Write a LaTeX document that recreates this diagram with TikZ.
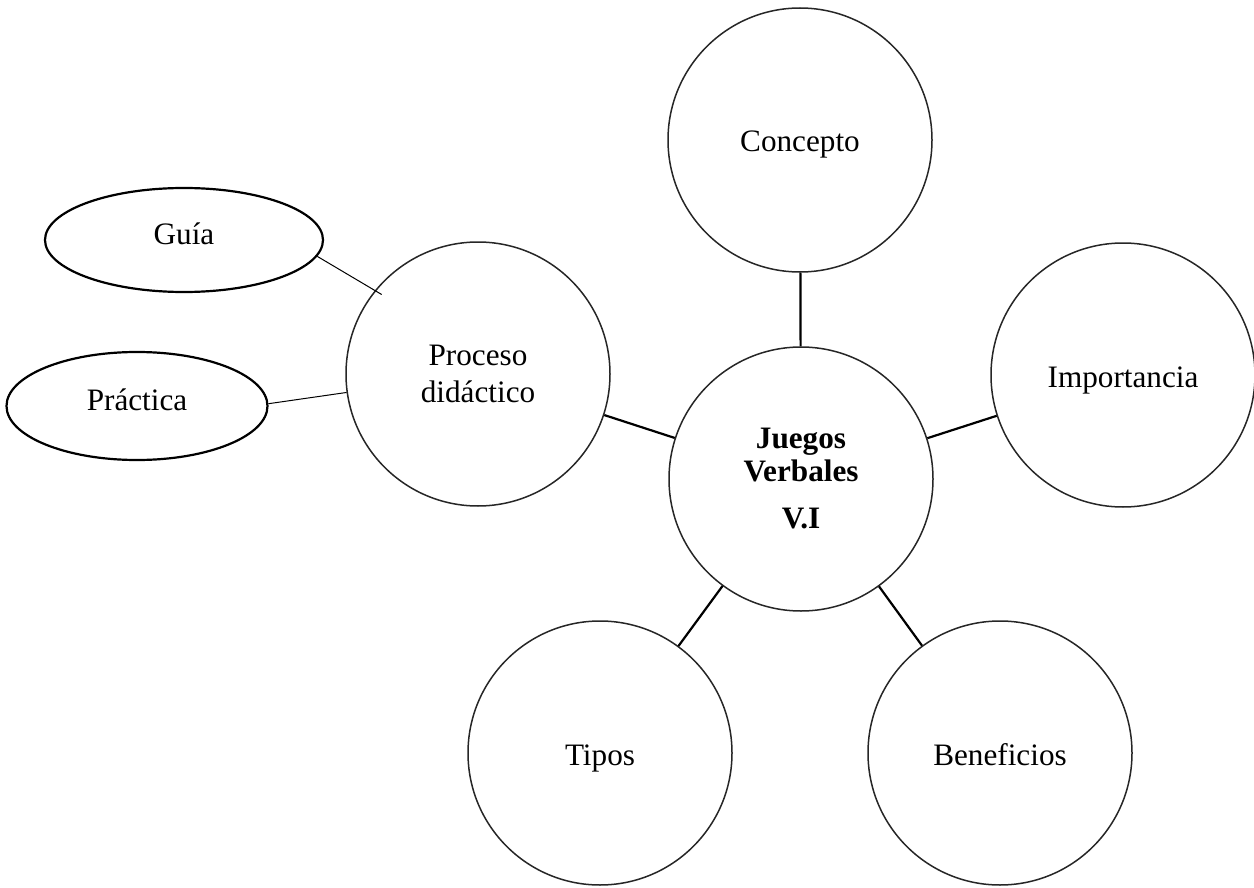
\documentclass[tikz,border=0pt]{standalone}
\usepackage{fontspec}
\setmainfont{Liberation Serif}
\usetikzlibrary{shapes.geometric}
\tikzset{
  bubble/.style={circle, draw=black!85, line width=0.75pt, inner sep=0pt, minimum size=132pt, align=center, font=\fontsize{15.6}{18.5}\selectfont},
  single/.style={text height=12pt, text depth=0pt},
  oval/.style={ellipse, draw=black, line width=1.1pt, inner sep=0pt, text height=9pt, text depth=5pt, font=\fontsize{15.6}{18.5}\selectfont},
  link/.style={draw=black, line width=1.1pt},
  thinlink/.style={draw=black, line width=0.5pt}
}
\begin{document}
\begin{tikzpicture}[x=0.5pt,y=-0.5pt]
\useasboundingbox (0,0) rectangle (1254,888);
\node[bubble, font=\bfseries\fontsize{15.6}{16.5}\selectfont] (cen) at (801,479) {Juegos\\Verbales\\[7pt]V.I};
\node[bubble, single] (con) at (800,140) {Concepto};
\node[bubble, single] (imp) at (1123,375) {Importancia};
\node[bubble] (pro) at (478,374) {Proceso\\did\'actico};
\node[bubble, single] (tip) at (600,753) {Tipos};
\node[bubble, single] (ben) at (1000,753) {Beneficios};
\node[oval, minimum width=139pt, minimum height=52pt] (gui) at (184,240) {Guía};
\node[oval, minimum width=130.5pt, minimum height=54pt] (pra) at (137,406) {Práctica};
\draw[link] (con) -- (cen);
\draw[link] (imp) -- (cen);
\draw[link] (pro) -- (cen);
\draw[link] (tip) -- (cen);
\draw[link] (ben) -- (cen);
\draw[thinlink, shorten >=-4pt] (gui.-7) -- (pro.141);
\draw[thinlink] (pra.1) -- (pro.188);
\end{tikzpicture}
\end{document}
